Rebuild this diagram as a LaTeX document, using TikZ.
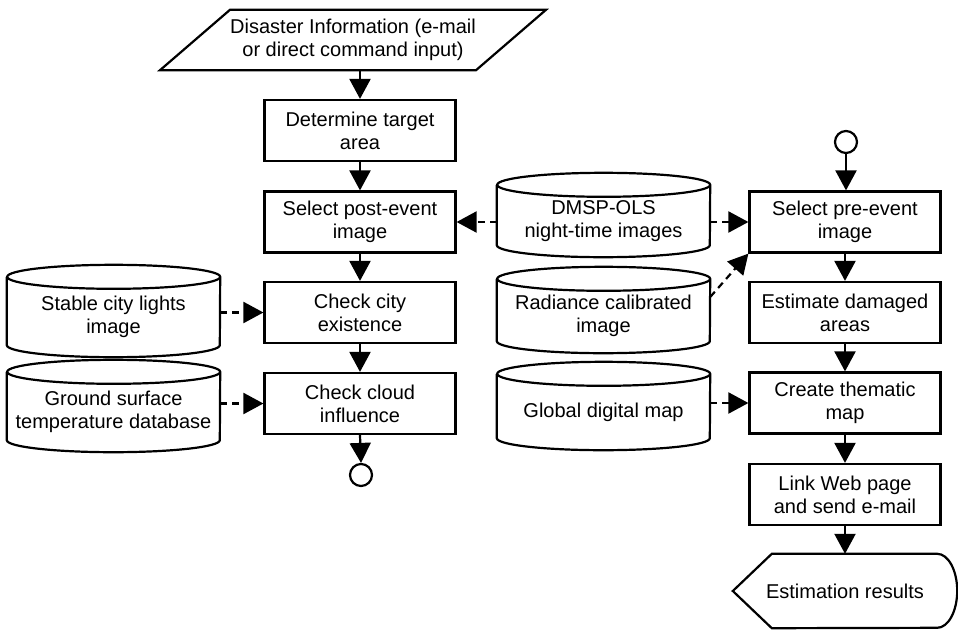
\documentclass[tikz,border=0pt]{standalone}
\usepackage{fontspec}
\setmainfont{Liberation Sans}
\usetikzlibrary{arrows.meta}

\tikzset{
  every node/.style={font=\fontsize{20}{23}\selectfont, align=center, inner sep=0pt},
  ln/.style={line width=2.2pt, line join=miter},
  stepbox/.style={draw, ln, minimum width=191pt, minimum height=61pt},
  dbbody/.style={minimum width=213pt},
  endpt/.style={draw, ln, circle, minimum size=22pt},
  flow/.style={ln, -{Triangle[length=20pt,width=21pt]}},
  dflow/.style={flow, dash pattern=on 7pt off 5pt},
}

% database drum around a body node: top ellipse centred on north, bottom arc ending at south
\newcommand\drawdb[1]{%
  \draw[ln] (#1.north west) -- ([yshift=12pt]#1.south west)
    arc[start angle=180, end angle=360, x radius=106.5pt, y radius=12pt]
    -- (#1.north east)
    arc[start angle=0, end angle=360, x radius=106.5pt, y radius=12pt];
}

\begin{document}
\begin{tikzpicture}[x=1pt, y=1pt]
\useasboundingbox (0,0) rectangle (958,-629);

% input parallelogram
\node[minimum width=243pt, minimum height=60pt] (input) at (353,-40)
  {Disaster Information (e-mail\\or direct command input)};
\draw[ln] ([xshift=-70pt]input.south west) -- (input.north west)
  -- ([xshift=70pt]input.north east) -- (input.south east) -- cycle;

% left column
\node[stepbox] (det)   at (360,-130.5) {Determine target\\area};
\node[stepbox] (post)  at (360,-222)   {Select post-event\\image};
\node[stepbox] (city)  at (360,-312.5) {Check city\\existence};
\node[stepbox] (cloud) at (360,-403.5) {Check cloud\\influence};
\node[endpt]   (endl)  at (361,-475)   {};

% right column
\node[endpt]   (startr) at (846,-142) {};
\node[stepbox] (pre)    at (845,-222)   {Select pre-event\\image};
\node[stepbox] (est)    at (845,-312.5) {Estimate damaged\\areas};
\node[stepbox] (them)   at (845,-403)   {Create thematic\\map};
\node[stepbox] (link)   at (845,-494.5) {Link Web page\\and send e-mail};

% output display shape
\node[minimum width=224pt, minimum height=74pt] (results) at (845,-591) {Estimation results};
\draw[ln] (results.west) -- ([xshift=39pt]results.north west)
  -- ([xshift=-20pt]results.north east)
  arc[start angle=90, end angle=-90, x radius=20pt, y radius=37pt]
  -- ([xshift=39pt]results.south west) -- cycle;

% databases
\node[dbbody, minimum height=80pt] (stable) at (113.5,-317) {Stable city lights\\image};
\node[dbbody, minimum height=80pt] (ground) at (113.5,-412) {Ground surface\\temperature database};
\node[dbbody, minimum height=72pt] (dmsp)   at (603.5,-221) {DMSP-OLS\\night-time images};
\node[dbbody, minimum height=74pt] (rad)    at (603.5,-316) {Radiance calibrated\\image};
\node[dbbody, minimum height=76pt] (global) at (603.5,-412) {Global digital map};
\drawdb{stable}
\drawdb{ground}
\drawdb{dmsp}
\drawdb{rad}
\drawdb{global}

% main flow
\draw[flow] (det.north |- input.south) -- (det.north);
\draw[flow] (det.south) -- (post.north);
\draw[flow] (post.south) -- (city.north);
\draw[flow] (city.south) -- (cloud.north);
\draw[flow] (cloud.south) -- (endl.north);

\draw[flow] (startr.south) -- (startr.south |- pre.north);
\draw[flow] (pre.south) -- (est.north);
\draw[flow] (est.south) -- (them.north);
\draw[flow] (them.south) -- (link.north);
\draw[flow] (link.south) -- (results.north);

% data inputs
\draw[dflow] (stable.east |- city.west) -- (city.west);
\draw[dflow] (ground.east |- cloud.west) -- (cloud.west);
\draw[dflow] (dmsp.west |- post.east) -- (post.east);
\draw[dflow] (dmsp.east |- pre.west) -- (pre.west);
\draw[dflow] ([yshift=19pt]rad.east) -- (pre.south west);
\draw[dflow] (global.east |- them.west) -- (them.west);
\end{tikzpicture}
\end{document}
